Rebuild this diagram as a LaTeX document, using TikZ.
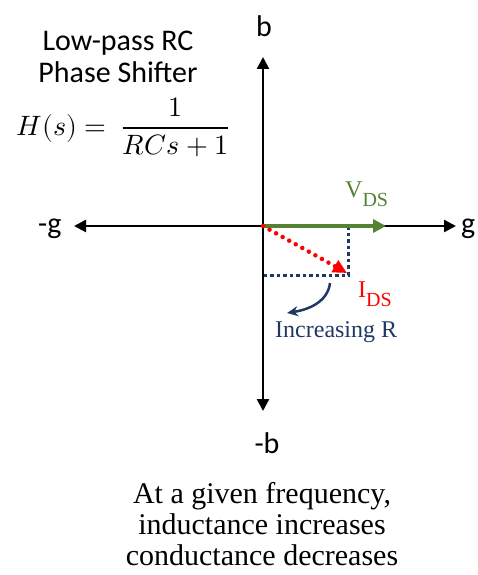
\documentclass[tikz,border=0pt]{standalone}
\usepackage{fontspec}
\usepackage{unicode-math}
\setmainfont{Liberation Serif}
\setmathfont{Latin Modern Math}
\newfontfamily\calfont{Carlito}
\usetikzlibrary{arrows.meta}
\definecolor{dsgreen}{HTML}{548235}
\definecolor{dsnavy}{HTML}{203864}
\definecolor{dsred}{HTML}{FF0000}
\tikzset{
  axis/.style={line width=2.5pt, {Triangle[length=12pt,width=12pt]}-{Triangle[length=12pt,width=12pt]}},
  axlabel/.style={inner sep=0pt, font=\calfont\fontsize{30}{32}\selectfont},
  vdsarrow/.style={dsgreen, line width=4pt, -{Triangle[length=13pt,width=13pt]}},
  idsarrow/.style={dsred, line width=4.5pt, line cap=round, dash pattern=on 0pt off 7.5pt, -{Triangle[length=14pt,width=13pt,line cap=butt]}},
  proj/.style={dsnavy, line width=3pt, dash pattern=on 3.5pt off 3pt},
  bendarrow/.style={dsnavy, line width=2.5pt, -{Stealth[length=11pt,width=10pt]}},
  serifl/.style={inner sep=0pt, font=\fontsize{24}{26}\selectfont},
  notetext/.style={inner sep=0pt, align=center, font=\fontsize{30}{31}\selectfont}
}
\begin{document}
\begin{tikzpicture}[x=1pt,y=-1pt]
\useasboundingbox (0,0) rectangle (478,575);
% axes
\coordinate (O) at (263,226);
\coordinate (top) at (263,57);
\coordinate (bot) at (263,411);
\coordinate (left) at (74,226);
\coordinate (right) at (456,226);
\draw[axis] (left) -- (right);
\draw[axis] (bot) -- (top);
% axis labels
\node[axlabel] (lb) at (264,26) {b};
\node[axlabel] (lmb) at (267,443) {-b};
\node[axlabel, anchor=base west] (lg) at (461,233) {g};
\node[axlabel, anchor=base west] (lmg) at (38,233) {-g};
% projections
\coordinate (P) at (348,275);
\coordinate (Px) at (348,226);
\coordinate (Py) at (263,275);
\draw[proj] (Px) -- (P) -- (Py);
% VDS
\coordinate (V) at (386,226);
\draw[vdsarrow] (O) -- (V);
% IDS
\coordinate (I) at (347,273);
\draw[idsarrow] (O) -- (I);
% labels
\node[serifl, dsgreen, anchor=base west] (vds) at (345,197) {V\raisebox{-9pt}{\fontsize{20}{22}\selectfont DS}};
\node[serifl, dsred, anchor=base west] (ids) at (358,297) {I\raisebox{-9pt}{\fontsize{20}{22}\selectfont DS}};
\node[serifl, dsnavy, anchor=base west] (inc) at (275,337) {Increasing R};
% bend arrow
\coordinate (bs) at (330,283);
\coordinate (be) at (287,313);
\draw[bendarrow] (bs) .. controls (328,300) and (312,309) .. (be);
% title
\node[axlabel, align=center] (title) at (118,57) {Low-pass RC\\Phase Shifter};
\node[inner sep=0pt, font=\fontsize{28}{34}\selectfont] (eq) at (123,127) {$\displaystyle H(s) =\ \frac{1}{RCs+1}$};
% note
\node[notetext] (note) at (262,524) {At a given frequency,\\inductance increases\\conductance decreases};
\end{tikzpicture}
\end{document}
